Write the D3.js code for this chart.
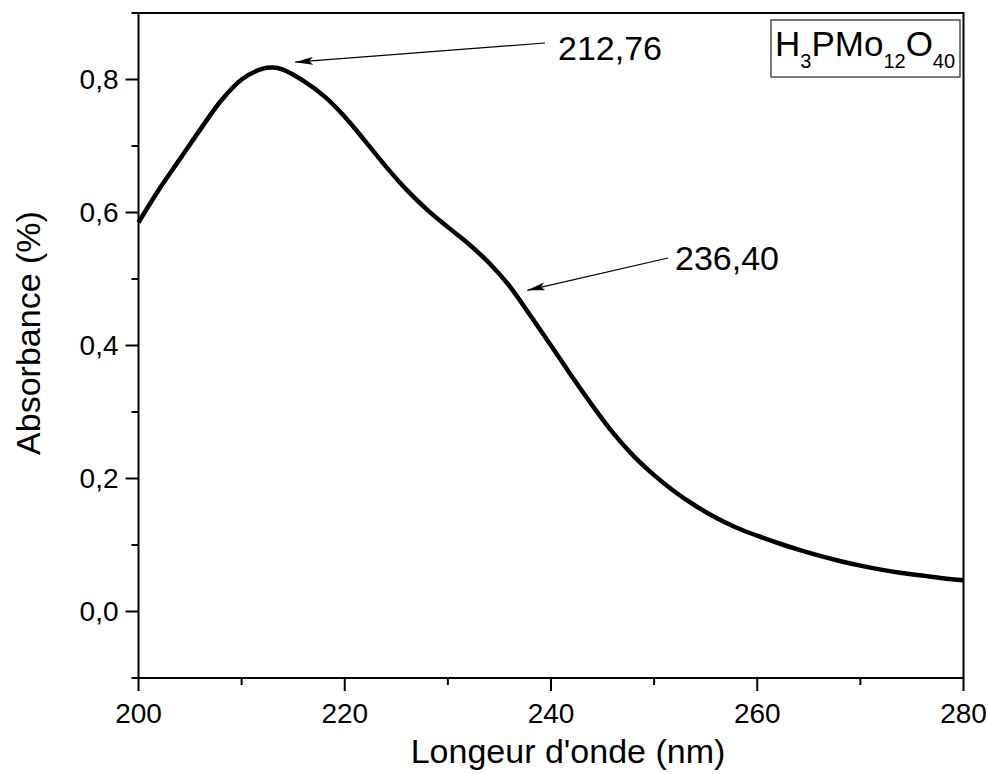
<!DOCTYPE html>
<html>
<head>
<meta charset="utf-8">
<script src="https://cdn.jsdelivr.net/npm/d3@7"></script>
<style>
  html, body { margin: 0; padding: 0; background: #fff; }
  svg { display: block; font-family: "Liberation Sans", Arial, sans-serif; }
</style>
</head>
<body>
<svg id="chart" width="988" height="774"></svg>
<script>
// ---- Data ----
const wavelength = [200, 202, 204, 206, 208, 210, 212, 213, 214, 216, 218, 220, 222, 224, 226, 228, 230, 232, 234, 236, 238, 240, 242, 244, 246, 248, 250, 252, 254, 256, 258, 260, 262, 264, 266, 268, 270, 272, 274, 276, 278, 280];
const absorbance = [0.585, 0.635, 0.680, 0.725, 0.768, 0.800, 0.816, 0.818, 0.815, 0.798, 0.775, 0.744, 0.707, 0.669, 0.634, 0.604, 0.578, 0.553, 0.524, 0.489, 0.445, 0.400, 0.354, 0.310, 0.269, 0.234, 0.205, 0.180, 0.159, 0.141, 0.126, 0.114, 0.103, 0.093, 0.084, 0.076, 0.069, 0.063, 0.058, 0.054, 0.050, 0.047];
const xMajorTicks = [200, 220, 240, 260, 280];
const xMinorTicks = [210, 230, 250, 270];
const yMajorTicks = [0.0, 0.2, 0.4, 0.6, 0.8];
const yMinorTicks = [-0.1, 0.1, 0.3, 0.5, 0.7, 0.9];
const xDomain = [200, 280];
const yDomain = [-0.1, 0.9];
const peakLabels = ["212,76", "236,40"];
const peakX = [215.2, 237.7];
const peakY = [0.826, 0.483];
const xTitle = "Longeur d'onde (nm)";
const yTitle = "Absorbance (%)";

// ---- Layout ----
const margin = { left: 138.5, right: 963.5, top: 13, bottom: 678 };
const svg = d3.select("#chart");

const x = d3.scaleLinear().domain(xDomain).range([margin.left, margin.right]);
const y = d3.scaleLinear().domain(yDomain).range([margin.bottom, margin.top]);

const locale = d3.formatLocale({ decimal: ",", thousands: ".", grouping: [3], currency: ["", ""] });
const fmt = locale.format(".1f");

// Curve
const line = d3.line()
  .x((d, i) => x(wavelength[i]))
  .y(d => y(d))
  .curve(d3.curveCatmullRom.alpha(0.5));

svg.append("path")
  .datum(absorbance)
  .attr("d", line)
  .attr("fill", "none")
  .attr("stroke", "#000")
  .attr("stroke-width", 4.5)
  .attr("stroke-linejoin", "round");

// Ticks (drawn through the scales)
const tickG = svg.append("g").attr("stroke", "#000").attr("stroke-width", 2);
tickG.selectAll("line.ymaj").data(yMajorTicks).join("line").attr("class", "ymaj")
  .attr("x1", margin.left - 13).attr("x2", margin.left)
  .attr("y1", d => y(d)).attr("y2", d => y(d));
tickG.selectAll("line.ymin").data(yMinorTicks).join("line").attr("class", "ymin")
  .attr("x1", margin.left - 7).attr("x2", margin.left)
  .attr("y1", d => y(d)).attr("y2", d => y(d));
tickG.selectAll("line.xmaj").data(xMajorTicks).join("line").attr("class", "xmaj")
  .attr("x1", d => x(d)).attr("x2", d => x(d))
  .attr("y1", margin.bottom).attr("y2", margin.bottom + 13);
tickG.selectAll("line.xmin").data(xMinorTicks).join("line").attr("class", "xmin")
  .attr("x1", d => x(d)).attr("x2", d => x(d))
  .attr("y1", margin.bottom).attr("y2", margin.bottom + 7);

// Tick labels
svg.append("g").selectAll("text").data(yMajorTicks).join("text")
  .attr("x", margin.left - 20).attr("y", d => y(d)).attr("dy", "0.35em")
  .attr("text-anchor", "end").attr("font-size", 28).attr("fill", "#000")
  .text(d => fmt(d));
svg.append("g").selectAll("text").data(xMajorTicks).join("text")
  .attr("x", d => x(d)).attr("y", margin.bottom + 25).attr("dy", "0.71em")
  .attr("text-anchor", "middle").attr("font-size", 28).attr("fill", "#000")
  .text(d => d3.format("d")(d));

// Frame
svg.append("rect")
  .attr("x", margin.left).attr("y", margin.top)
  .attr("width", margin.right - margin.left)
  .attr("height", margin.bottom - margin.top)
  .attr("fill", "none").attr("stroke", "#000").attr("stroke-width", 2);

// Axis titles
svg.append("text")
  .attr("x", 568).attr("y", 763)
  .attr("text-anchor", "middle")
  .attr("font-size", 34)
  .attr("fill", "#000")
  .text(xTitle);

svg.append("text")
  .attr("transform", "translate(40,333) rotate(-90)")
  .attr("text-anchor", "middle")
  .attr("font-size", 34)
  .attr("fill", "#000")
  .text(yTitle);

// Arrow marker
svg.append("defs").append("marker")
  .attr("id", "arrow")
  .attr("viewBox", "0 0 18 8")
  .attr("refX", 18).attr("refY", 4)
  .attr("markerWidth", 18).attr("markerHeight", 8)
  .attr("markerUnits", "userSpaceOnUse")
  .attr("orient", "auto")
  .append("path")
  .attr("d", "M0,0 L18,4 L0,8 L4,4 Z")
  .attr("fill", "#000");

// Annotations
const labelPos = [[558, 60], [675, 270]];
const arrowStart = [[545, 43], [668, 258]];
peakLabels.forEach((lab, i) => {
  svg.append("line")
    .attr("x1", arrowStart[i][0]).attr("y1", arrowStart[i][1])
    .attr("x2", x(peakX[i])).attr("y2", y(peakY[i]))
    .attr("stroke", "#000").attr("stroke-width", 1.2)
    .attr("marker-end", "url(#arrow)");
  svg.append("text")
    .attr("x", labelPos[i][0]).attr("y", labelPos[i][1])
    .attr("font-size", 34)
    .attr("fill", "#000")
    .text(lab);
});

// Legend box with formula
svg.append("rect")
  .attr("x", 771).attr("y", 20).attr("width", 189).attr("height", 57)
  .attr("fill", "#fff").attr("stroke", "#333").attr("stroke-width", 1.3);

const formula = [["H", false], ["3", true], ["PMo", false], ["12", true], ["O", false], ["40", true]];
const ft = svg.append("text")
  .attr("x", 775).attr("y", 56)
  .attr("font-size", 35)
  .attr("fill", "#000");
let sub = false;
formula.forEach(([t, s]) => {
  const ts = ft.append("tspan").text(t);
  if (s) { ts.attr("font-size", 20).attr("dy", 12); sub = true; }
  else if (sub) { ts.attr("dy", -12); sub = false; }
});
</script>
</body>
</html>
